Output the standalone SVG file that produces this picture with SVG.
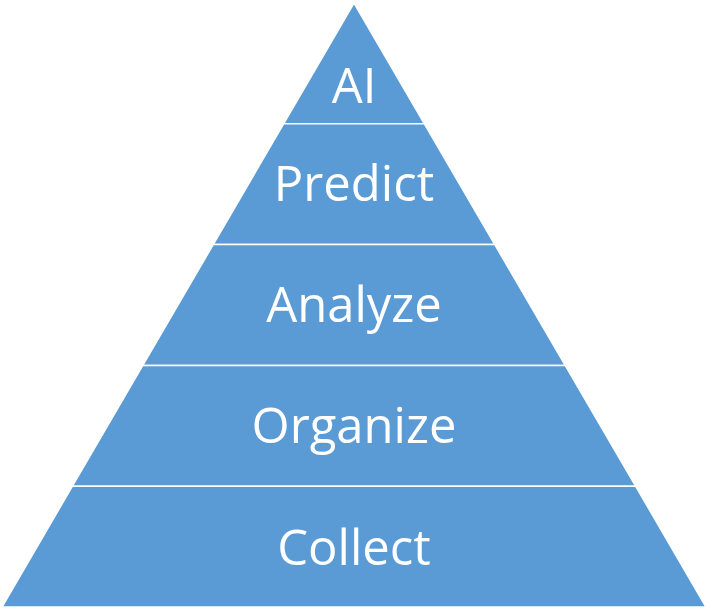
<svg xmlns="http://www.w3.org/2000/svg" width="708" height="613" viewBox="0 0 708 613">
<style>
.band{fill:#5B9BD5;stroke:#FFFFFF;stroke-width:1.5;stroke-linejoin:miter}
.lbl{font-family:"Open Sans","Noto Sans","DejaVu Sans",sans-serif;font-size:49px;fill:#FFFFFF;text-anchor:middle}
</style>
<rect width="708" height="613" fill="#FFFFFF"/>
<g id="node-ai">
<polygon class="band" points="354,3 424.4,123.8 283.6,123.8"/>
<text class="lbl" x="354" y="103">AI</text>
</g>
<g id="node-predict">
<polygon class="band" points="283.6,123.8 424.4,123.8 494.8,244.6 213.2,244.6"/>
<text class="lbl" x="354" y="201">Predict</text>
</g>
<g id="node-analyze">
<polygon class="band" points="213.2,244.6 494.8,244.6 565.2,365.4 142.8,365.4"/>
<text class="lbl" x="354" y="322">Analyze</text>
</g>
<g id="node-organize">
<polygon class="band" points="142.8,365.4 565.2,365.4 635.6,486.2 72.4,486.2"/>
<text class="lbl" x="354" y="443">Organize</text>
</g>
<g id="node-collect">
<polygon class="band" points="72.4,486.2 635.6,486.2 706,607 2,607"/>
<text class="lbl" x="354" y="565">Collect</text>
</g>
<g id="connectors"></g>
</svg>
